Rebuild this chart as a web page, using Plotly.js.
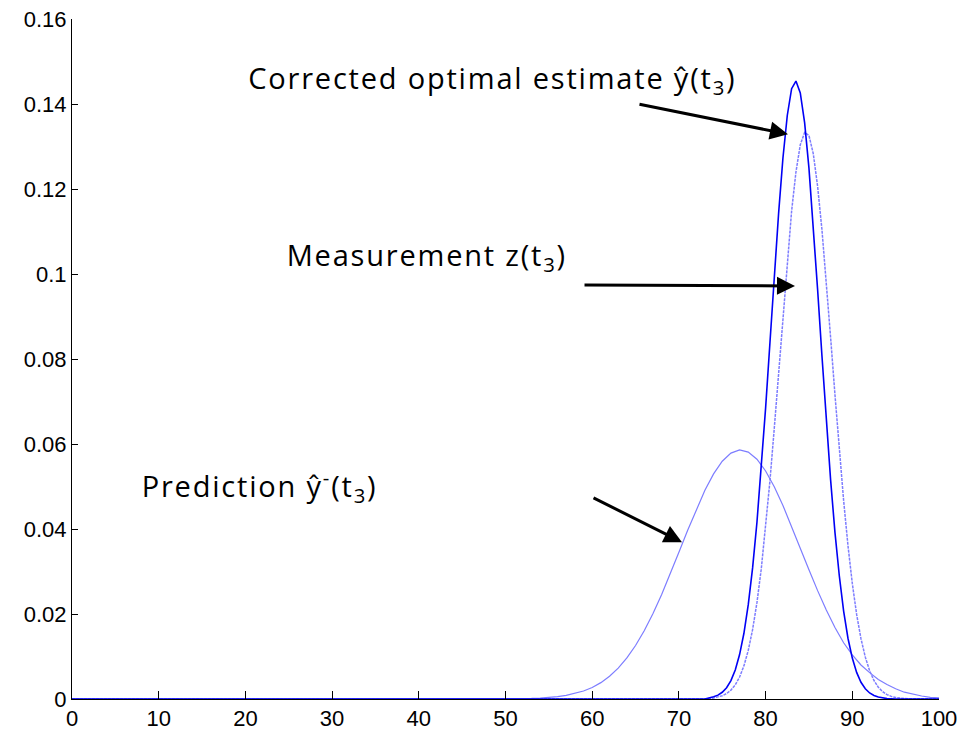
<!DOCTYPE html>
<html>
<head>
<meta charset="utf-8">
<script src="https://cdn.plot.ly/plotly-3.0.1.min.js"></script>
<style>
html,body{margin:0;padding:0;background:#fff;}
#chart{width:961px;height:735px;}
#chart .annotation-text{letter-spacing:1.8px;}
</style>
</head>
<body>
<div id="chart"></div>
<script>
// Prediction  ŷ-(t3)
const predX = [0, 19, 50, 51, 52, 53, 54, 55, 56, 57, 58, 59, 60, 61, 62, 63, 64, 65, 66, 67, 68, 69, 70,
  71, 72, 73, 74, 75, 76, 77, 78, 79, 80, 81, 82, 83, 84, 85, 86, 87, 88, 89, 90, 91, 92, 93, 94, 95, 96, 97, 98, 99, 100];
const predY = [0, 0, 0.00003, 0.00005, 0.00008, 0.00013, 0.00022, 0.00035, 0.00055, 0.00084, 0.00127, 0.00188, 0.00272,
  0.00385, 0.00534, 0.00726, 0.00966, 0.01259, 0.01606, 0.02007, 0.02455, 0.02942, 0.03451,
  0.03964, 0.04459, 0.04911, 0.05297, 0.05594, 0.05786, 0.0586, 0.0581, 0.05642, 0.05365, 0.04994, 0.04554,
  0.04065, 0.03554, 0.03042, 0.0255, 0.02093, 0.01682, 0.01324, 0.0104, 0.0080, 0.0062, 0.0046, 0.0034,
  0.0024, 0.0016, 0.0011, 0.0007, 0.0004, 0.0003];

// Measurement z(t3)
const measX = [0, 73, 74, 74.5, 75, 75.5, 76, 76.5, 77, 77.5, 78, 78.5, 79, 79.5, 80, 80.5, 81, 81.5, 82, 82.5,
  83, 83.5, 84, 84.5, 85, 85.5, 86, 86.5, 87, 87.5, 88, 88.5, 89, 89.5, 90, 90.5, 91, 91.5, 92, 92.5,
  93, 93.5, 94, 94.5, 95, 96, 97, 100];
const measY = [0, 0, 0.00025, 0.00044, 0.00076, 0.00128, 0.00209, 0.00333, 0.00517, 0.0078, 0.01144, 0.01633,
  0.02267, 0.0306, 0.0402, 0.0513, 0.0637, 0.0769, 0.0904, 0.1033, 0.1148, 0.124, 0.1304, 0.1333, 0.1326,
  0.1283, 0.1206, 0.1104, 0.0982, 0.085, 0.0716, 0.0586, 0.0467, 0.0361, 0.0272, 0.0199, 0.0142, 0.00985,
  0.00664, 0.00435, 0.00277, 0.00172, 0.00104, 0.00061, 0.00035, 0.0001, 0.00003, 0];

// Corrected optimal estimate ŷ(t3)
const corrX = [0, 73, 74, 74.5, 75, 75.5, 76, 76.5, 77, 77.5, 78, 78.5, 79, 79.5, 80, 80.5, 81, 81.5, 82, 82.5,
  83, 83.5, 84, 84.5, 85, 85.5, 86, 86.5, 87, 87.5, 88, 88.5, 89, 89.5, 90, 90.5, 91, 91.5, 92, 92.5,
  93, 94, 95, 100];
const corrY = [0, 0, 0.00051, 0.00091, 0.00158, 0.00266, 0.00433, 0.00684, 0.01045, 0.01547, 0.02219, 0.03084,
  0.04153, 0.05416, 0.06845, 0.08383, 0.09944, 0.1143, 0.1273, 0.1373, 0.1436, 0.1454, 0.1426, 0.1356, 0.1249,
  0.1115, 0.0963, 0.0807, 0.0655, 0.0515, 0.0392, 0.029, 0.0207, 0.0143, 0.00963, 0.00626, 0.00394, 0.00241,
  0.00142, 0.00081, 0.00045, 0.0001, 0, 0];

const xTicks = [0, 10, 20, 30, 40, 50, 60, 70, 80, 90, 100];
const yTicks = [0, 0.02, 0.04, 0.06, 0.08, 0.1, 0.12, 0.14, 0.16];
const yTickText = ['0', '0.02', '0.04', '0.06', '0.08', '0.1', '0.12', '0.14', '0.16'];

const labels = {
  corr: 'Corrected optimal estimate ŷ(t<sub>3</sub>)',
  meas: 'Measurement z(t<sub>3</sub>)',
  pred: 'Prediction ŷ<sup>-</sup>(t<sub>3</sub>)'
};

const traces = [
  {x: predX, y: predY, type: 'scatter', mode: 'lines', line: {color: 'rgb(125,125,255)', width: 1.2}, hoverinfo: 'skip'},
  {x: measX, y: measY, type: 'scatter', mode: 'lines', line: {color: 'rgb(125,125,255)', width: 1.5, dash: '3px,1px'}, hoverinfo: 'skip'},
  {x: corrX, y: corrY, type: 'scatter', mode: 'lines', line: {color: 'rgb(0,0,245)', width: 1.6}, hoverinfo: 'skip'}
];

const annFont = {family: '"Open Sans", Lato, sans-serif', size: 29, color: '#000'};
const arrowBase = {text: '', showarrow: true, arrowhead: 2, arrowsize: 1.2, arrowwidth: 3, arrowcolor: '#000',
  xref: 'x', yref: 'y', axref: 'x', ayref: 'y', standoff: 0, startstandoff: 0};

const layout = {
  width: 961, height: 735,
  margin: {l: 72, r: 22, t: 19, b: 36, pad: 0},
  paper_bgcolor: '#fff', plot_bgcolor: '#fff',
  showlegend: false,
  font: {family: '"Liberation Sans", Arial, sans-serif', size: 22, color: '#000'},
  xaxis: {
    range: [0, 100], tickvals: xTicks, ticktext: xTicks.map(String),
    ticks: 'inside', ticklen: 8, tickwidth: 1, tickcolor: '#000',
    showline: true, linecolor: '#000', linewidth: 1, mirror: false,
    showgrid: false, zeroline: false, automargin: false, fixedrange: true
  },
  yaxis: {
    range: [0, 0.16], tickvals: yTicks, ticktext: yTickText,
    ticks: 'inside', ticklen: 6, tickwidth: 1, tickcolor: '#000',
    showline: true, linecolor: '#000', linewidth: 1, mirror: false,
    showgrid: false, zeroline: false, automargin: false, fixedrange: true
  },
  annotations: [
    {text: labels.corr, x: 48.5, y: 0.1458, xref: 'x', yref: 'y', xanchor: 'center', yanchor: 'middle', showarrow: false, font: annFont},
    {text: labels.meas, x: 41.0, y: 0.1042, xref: 'x', yref: 'y', xanchor: 'center', yanchor: 'middle', showarrow: false, font: annFont},
    {text: labels.pred, x: 21.6, y: 0.0502, xref: 'x', yref: 'y', xanchor: 'center', yanchor: 'middle', showarrow: false, font: annFont},
    Object.assign({}, arrowBase, {ax: 65.28, ay: 0.1400, x: 82.58, y: 0.1329}),
    Object.assign({}, arrowBase, {ax: 58.94, ay: 0.0974, x: 83.39, y: 0.0972}),
    Object.assign({}, arrowBase, {ax: 59.98, ay: 0.0475, x: 70.36, y: 0.0369})
  ]
};

Plotly.newPlot('chart', traces, layout, {displayModeBar: false, staticPlot: true});
</script>
</body>
</html>
